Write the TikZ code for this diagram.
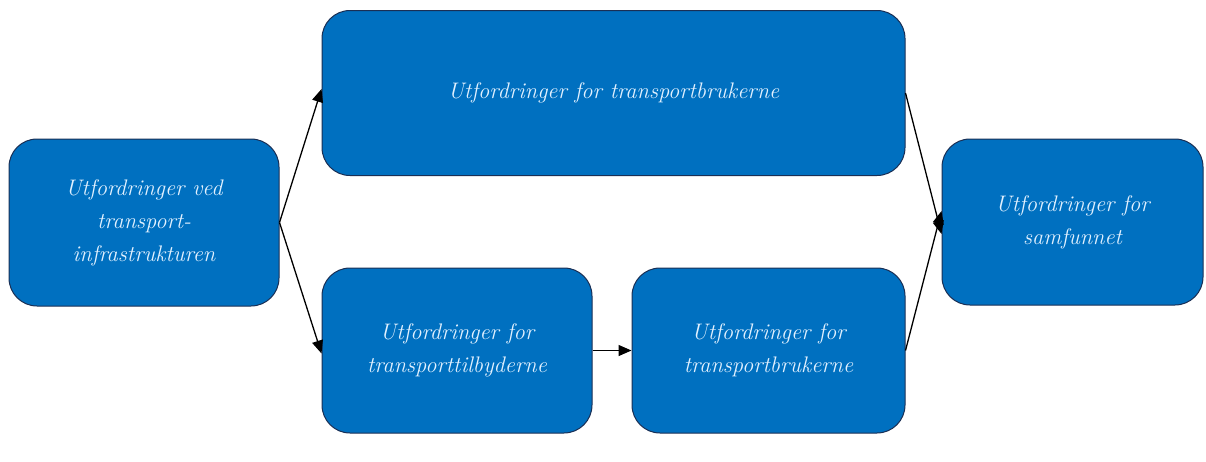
\documentclass[tikz,border=0pt]{standalone}
\usetikzlibrary{arrows.meta}
\definecolor{boxfill}{HTML}{0070C0}
\definecolor{boxline}{HTML}{1A2F55}
\definecolor{boxtext}{HTML}{E2F1FF}
\begin{document}
\begin{tikzpicture}[x=1pt,y=-1pt,
  blk/.style={draw=boxline, line width=1pt, fill=boxfill, rounded corners=28pt,
    text=boxtext, align=center, inner sep=0pt,
    font=\fontsize{22.5}{33}\selectfont\itshape},
  conn/.style={-{Triangle[length=13pt,width=11pt]}, line width=1.3pt, black}]
\useasboundingbox (0,0) rectangle (1206,461);
\node[blk, minimum width=270pt, minimum height=167pt] (L) at (144,222.5) {Utfordringer ved\\transport-\\infrastrukturen};
\node[blk, minimum width=583pt, minimum height=165pt] (T) at (613.5,93) {Utfordringer for transportbrukerne};
\node[blk, minimum width=270pt, minimum height=165pt] (B1) at (457,350.5) {Utfordringer for\\transporttilbyderne};
\node[blk, minimum width=273pt, minimum height=165pt] (B2) at (768.5,350.5) {Utfordringer for\\transportbrukerne};
\node[blk, minimum width=261pt, minimum height=166pt] (R) at (1072.5,222) {Utfordringer for\\samfunnet};
\draw[conn] (L.east) -- ([yshift=4pt]T.west);
\draw[conn] (L.east) -- ([yshift=-3pt]B1.west);
\draw[conn] (B1.east) -- (B2.west);
\draw[conn] (T.east) -- ([yshift=-12pt]R.west);
\draw[conn] (B2.east) -- ([yshift=11pt]R.west);
\end{tikzpicture}
\end{document}
